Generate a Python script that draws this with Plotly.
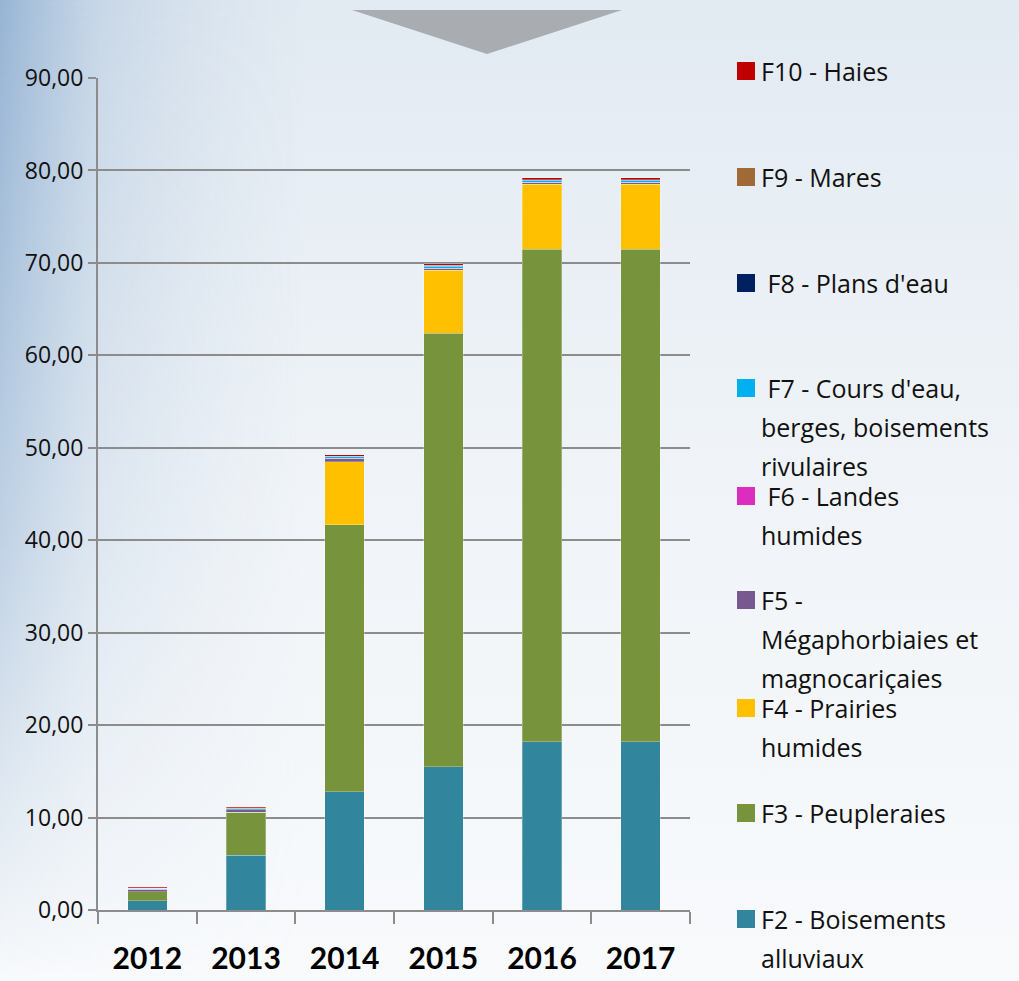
import base64
import plotly.graph_objects as go

years = ["2012", "2013", "2014", "2015", "2016", "2017"]

f2 = [1.00, 5.95, 12.80, 15.50, 18.20, 18.20]
f3 = [0.95, 4.60, 28.85, 46.90, 53.30, 53.30]
f4 = [0.00, 0.00, 6.85, 6.80, 7.00, 7.00]
f5 = [0.30, 0.28, 0.35, 0.20, 0.22, 0.22]
f6 = [0.00, 0.00, 0.00, 0.00, 0.00, 0.00]
f7 = [0.08, 0.12, 0.20, 0.25, 0.22, 0.22]
f8 = [0.00, 0.02, 0.03, 0.08, 0.05, 0.05]
f9 = [0.00, 0.02, 0.02, 0.02, 0.03, 0.03]
f10 = [0.15, 0.15, 0.15, 0.18, 0.18, 0.18]

series_names = [
    "F2 - Boisements alluviaux",
    "F3 - Peupleraies",
    "F4 - Prairies humides",
    "F5 - Mégaphorbiaies et magnocariçaies",
    "F6 - Landes humides",
    "F7 - Cours d'eau, berges, boisements rivulaires",
    "F8 - Plans d'eau",
    "F9 - Mares",
    "F10 - Haies",
]
legend_lines = [
    ["F2 - Boisements", "alluviaux"],
    ["F3 - Peupleraies"],
    ["F4 - Prairies", "humides"],
    ["F5 -", "Mégaphorbiaies et", "magnocariçaies"],
    [" F6 - Landes", "humides"],
    [" F7 - Cours d'eau,", "berges, boisements", "rivulaires"],
    [" F8 - Plans d'eau"],
    ["F9 - Mares"],
    ["F10 - Haies"],
]
series_values = [f2, f3, f4, f5, f6, f7, f8, f9, f10]
colors = ["#31859C", "#77933C", "#FFC000", "#76598F", "#DD2DC1",
          "#00B0F0", "#002060", "#9F6A35", "#C00000"]
y_ticks = [0, 10, 20, 30, 40, 50, 60, 70, 80, 90]
y_tick_labels = ["0,00", "10,00", "20,00", "30,00", "40,00", "50,00",
                 "60,00", "70,00", "80,00", "90,00"]

W, H = 1019, 981
L, R = 98, 690
T, B = 78, 910

fig = go.Figure()
for name, vals, col in zip(series_names, series_values, colors):
    fig.add_trace(go.Bar(
        x=years, y=vals, name=name,
        marker=dict(color=col, line=dict(width=0.6, color="rgba(255,255,255,0.45)")),
        width=0.4,
    ))

# background gradient (svg data uri)
svg = f'''<svg xmlns="http://www.w3.org/2000/svg" width="{W}" height="{H}">
<defs>
<linearGradient id="v" x1="0" y1="0" x2="0" y2="1">
<stop offset="0" stop-color="#e2eaf2"/>
<stop offset="0.5" stop-color="#f0f4f8"/>
<stop offset="1" stop-color="#f8fafc"/>
</linearGradient>
<linearGradient id="h" x1="0" y1="0" x2="1" y2="0">
<stop offset="0" stop-color="#8eaed0" stop-opacity="0.9"/>
<stop offset="0.1" stop-color="#a9c1da" stop-opacity="0.45"/>
<stop offset="0.3" stop-color="#c8d7e6" stop-opacity="0"/>
</linearGradient>
<linearGradient id="hv" x1="0" y1="0" x2="0" y2="1">
<stop offset="0" stop-color="#fff" stop-opacity="1"/>
<stop offset="0.55" stop-color="#fff" stop-opacity="0.55"/>
<stop offset="1" stop-color="#fff" stop-opacity="0"/>
</linearGradient>
<mask id="m"><rect width="{W}" height="{H}" fill="url(#hv)"/></mask>
</defs>
<rect width="{W}" height="{H}" fill="url(#v)"/>
<rect width="{W}" height="{H}" fill="url(#h)" mask="url(#m)"/>
</svg>'''
uri = "data:image/svg+xml;base64," + base64.b64encode(svg.encode()).decode()
fig.add_layout_image(dict(source=uri, xref="paper", yref="paper",
                          x=-L / (R - L), y=1 + T / (B - T),
                          sizex=W / (R - L), sizey=H / (B - T),
                          xanchor="left", yanchor="top", sizing="stretch",
                          layer="below"))

def px_x(px):
    return (px - L) / (R - L)

def px_y(py):
    return (B - py) / (B - T)

# decorative triangle at top
fig.add_shape(type="path",
              path=f"M {px_x(352)} {px_y(10)} L {px_x(622)} {px_y(10)} L {px_x(487)} {px_y(54)} Z",
              xref="paper", yref="paper", fillcolor="#a9acb0",
              line=dict(width=0), layer="above")

# legend (manual, fixed spacing like the original)
legend_font = "'Open Sans', Lato, sans-serif"
tick_font = "'Open Sans', Lato, sans-serif"
year_font = "Lato, 'Open Sans', sans-serif"
first_baselines = [928, 822, 717, 609, 505, 397, 292, 186, 80]
for lines, col, base in zip(legend_lines, colors, first_baselines):
    fig.add_shape(type="rect", xref="paper", yref="paper",
                  x0=px_x(737), x1=px_x(755), y0=px_y(base), y1=px_y(base - 18),
                  fillcolor=col, line=dict(width=0))
    for i, ln in enumerate(lines):
        fig.add_annotation(text=ln, xref="paper", yref="paper",
                           x=px_x(760), y=px_y(base + 39 * i - 9),
                           xanchor="left", yanchor="middle", showarrow=False,
                           borderpad=0,
                           font=dict(family=legend_font, size=25, color="#111111"))

fig.update_layout(
    width=W, height=H,
    margin=dict(l=L, r=W - R, t=T, b=H - B, pad=0, autoexpand=False),
    barmode="stack",
    showlegend=False,
    paper_bgcolor="rgba(0,0,0,0)",
    plot_bgcolor="rgba(0,0,0,0)",
    xaxis=dict(
        type="category",
        automargin=False,
        showgrid=False,
        showline=True, linecolor="#8c8c8c", linewidth=2,
        ticks="outside", ticklen=12, tickcolor="#8c8c8c", tickwidth=2,
        tickson="boundaries",
        tickfont=dict(family=year_font, size=30, color="#000000", weight="bold"),
        ticklabelstandoff=21,
    ),
    yaxis=dict(
        range=[0, 90],
        automargin=False,
        tickvals=y_ticks, ticktext=y_tick_labels,
        showgrid=True, gridcolor="#8c8c8c", gridwidth=2,
        showline=True, linecolor="#8c8c8c", linewidth=2,
        ticks="outside", ticklen=8, tickcolor="#8c8c8c", tickwidth=2,
        tickfont=dict(family=tick_font, size=23, color="#111111"),
        zeroline=False,
    ),
)

fig.write_html("out.html")
